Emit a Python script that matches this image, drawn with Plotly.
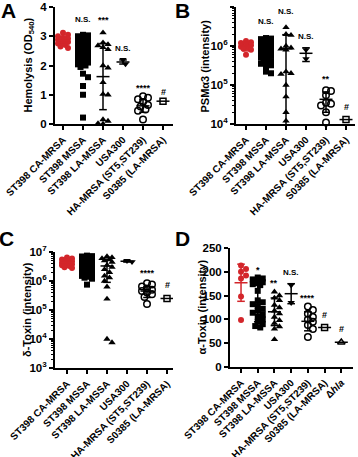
import numpy as np
import plotly.graph_objects as go

# ---------------- categories / tick labels ----------------
groups = ["ST398 CA-MRSA", "ST398 MSSA", "ST398 LA-MSSA", "USA300",
          "HA-MRSA (ST5,ST239)", "S0385 (LA-MRSA)"]
groups_d = groups + ["Δ<i>hla</i>"]
log_ticks_b = [1e4, 1e5, 1e6, 1e7]
log_text_b = ["10<sup>4</sup>", "10<sup>5</sup>", "10<sup>6</sup>", "10<sup>7</sup>"]
log_ticks_c = [1e3, 1e4, 1e5, 1e6, 1e7]
log_text_c = ["10<sup>3</sup>", "10<sup>4</sup>", "10<sup>5</sup>", "10<sup>6</sup>", "10<sup>7</sup>"]

# ---------------- Panel A: Hemolysis ----------------
a_ca = [3.12, 3.05, 3.0, 2.95, 2.92, 2.88, 2.85, 2.82, 2.8, 2.78, 2.75, 2.7, 2.65, 2.6]
a_mssa = [3.05, 3.03, 3.0, 2.98, 2.96, 2.94, 2.92, 2.9, 2.88, 2.85, 2.83, 2.8, 2.78, 2.76,
          2.74, 2.72, 2.7, 2.68, 2.66, 2.64, 2.62, 2.6, 2.58, 2.56, 2.54, 2.52, 2.5, 2.48,
          2.46, 2.44, 2.42, 2.4, 2.38, 2.36, 2.34, 2.32, 2.3, 2.28, 2.26, 2.24, 2.22, 2.2,
          2.18, 2.15, 2.12, 2.1, 2.07, 2.04, 2.0, 1.95, 1.72, 1.6, 1.3, 1.0, 0.22]
a_la = [3.12, 2.78, 2.72, 2.68, 2.62, 2.55, 2.0, 1.92, 1.42, 1.02, 1.0, 0.15, 0.1, 0.02, 0.0]
a_usa = [2.2, 2.05]
a_ha = [0.95, 0.9, 0.85, 0.75, 0.65, 0.6, 0.5, 0.45, 0.15]
a_s = [0.78]
a_mean = [2.85, 2.5, 1.62, 2.12, 0.62, 0.78]
a_sd = [0.13, 0.45, 1.13, 0.07, 0.22, 0.0]
a_sig = ["", "N.S.", "***", "N.S.", "****", "#"]
a_sig_y = [None, 3.56, 3.56, 2.59, 1.24, 1.08]

# ---------------- Panel B: PSMα3 ----------------
b_ca = [1.35e6, 1.25e6, 1.2e6, 1.15e6, 1.1e6, 1.05e6, 1.0e6, 9.5e5, 9e5, 8.5e5, 8e5, 6e5]
b_mssa = [1.6e6, 1.55e6, 1.5e6, 1.45e6, 1.4e6, 1.35e6, 1.3e6, 1.25e6, 1.2e6, 1.18e6, 1.15e6,
          1.1e6, 1.08e6, 1.05e6, 1.02e6, 1.0e6, 9.7e5, 9.4e5, 9.1e5, 8.8e5, 8.5e5, 8.2e5, 8e5,
          7.7e5, 7.4e5, 7.1e5, 6.8e5, 6.5e5, 6.2e5, 5.9e5, 5.6e5, 5.3e5, 5e5, 4.7e5, 4.4e5,
          4.1e5, 3.8e5, 3.5e5, 3.2e5, 3e5, 2.2e5, 2e5]
b_la = [3e6, 2e6, 1.9e6, 1.0e6, 9e5, 8.5e5, 8e5, 2.2e5, 2e5, 1.9e5, 1.0e5, 5e4, 2e4, 1.2e4]
b_usa = [8e5, 4.7e5]
b_ha = [7.3e4, 7e4, 5.5e4, 3.5e4, 3.3e4, 3e4, 2e4, 1.1e4]
b_s = [1.3e4]
b_mean = [1.0e6, 9e5, 8.5e5, 6.5e5, 4.3e4, 1.3e4]
b_sd = [2.5e5, 4e5, 1.1e6, 2.5e5, 2.3e4, 0.0]
b_sig = ["", "N.S.", "N.S.", "N.S.", "**", "#"]
b_sig_y = [None, 4.2e6, 7.6e6, 1.8e6, 1.4e5, 2.75e4]

# ---------------- Panel C: δ-Toxin ----------------
c_ca = [6.5e6, 6e6, 5.5e6, 5.2e6, 5e6, 4.8e6, 4.5e6, 4.3e6, 4e6, 3.8e6, 3.5e6, 3.3e6,
        3e6, 2.8e6, 4.2e6, 3.7e6]
c_mssa = [7.5e6, 7.2e6, 7e6, 6.8e6, 6.7e6, 6.4e6, 6.2e6, 6.1e6, 5.8e6, 5.6e6, 5.5e6, 5.3e6,
          5.2e6, 5e6, 4.8e6, 4.7e6, 4.6e6, 4.4e6, 4.3e6, 4.2e6, 4e6, 3.9e6, 3.8e6, 3.6e6,
          3.5e6, 3.4e6, 3.2e6, 3e6, 2.8e6, 2.6e6, 2.4e6, 2.2e6, 2e6, 1.9e6, 1.8e6, 1.7e6,
          1.6e6, 1.5e6, 1.4e6, 1.3e6, 1.2e6, 7.5e5]
c_la = [7e6, 6.5e6, 6e6, 5.5e6, 5e6, 4.5e6, 3.5e6, 3e6, 2.5e6, 2e6, 1.5e6, 1.3e6, 1e6,
        6.3e5, 2.4e5, 1e4, 7.5e3]
c_usa = [5e6, 4.6e6]
c_ha = [8.3e5, 7.5e5, 6.5e5, 5.5e5, 5e5, 4.5e5, 4e5, 3.5e5, 2.8e5, 1.6e5]
c_s = [2.5e5]
c_mean = [4.3e6, 3.5e6, 3.3e6, 4.8e6, 4.5e5, 2.5e5]
c_sd = [1.1e6, 1.8e6, 2.4e6, 3e5, 1.8e5, 0.0]
c_sig = ["", "N.S.", "N.S.", "N.S.", "****", "#"]
c_sig_y = [None, 2.0e7, 1.65e7, 1.65e7, 1.9e6, 7.3e5]

# ---------------- Panel D: α-Toxin ----------------
d_ca = [213, 206, 200, 192, 186, 148, 99]
d_mssa = [188, 186, 184, 182, 180, 178, 176, 174, 172, 160, 140, 136, 132, 128, 122, 118,
          114, 110, 105, 100, 95, 90, 86, 83]
d_la = [158, 150, 145, 140, 130, 125, 118, 112, 105, 98, 92, 85, 80, 58]
d_usa = [172, 135]
d_ha = [127, 120, 112, 105, 100, 95, 88, 80, 63]
d_s = [83]
d_hla = [52]
d_mean = [177, 135, 116, 154, 96, 83, 52]
d_sd = [39, 40, 29, 21, 20, 0, 0]
d_sig = ["", "*", "**", "N.S.", "****", "#", "#"]
d_sig_y = [None, 204, 176, 198, 144, 109, 79]

# ---------------- styles ----------------
RED = "#d3262b"
BLK = "black"
colors = [RED, BLK, BLK, BLK, BLK, BLK, BLK]
symbols = ["circle", "square", "triangle-up", "triangle-down", "circle-open",
           "square-open", "triangle-up-open"]
sizes = [6, 6, 6.5, 6.5, 6.5, 6, 6.5]
FONT = "Liberation Sans"

fig = go.Figure()


def swarm(vals, ypx, log, catpx, size=5.0, maxhalf=6.0):
    v = np.asarray(vals, float)
    y = (np.log10(v) if log else v) * ypx
    order = np.argsort(-y)
    step = size * 0.5
    cands = [0.0]
    k = 1
    while k * step <= maxhalf:
        cands += [k * step, -k * step]
        k += 1
    placed = []
    offs = np.zeros(len(v))
    for i in order:
        best, bestc, bestd = None, 0.0, -1.0
        for c in cands:
            d = min([np.hypot(c - px, y[i] - py) for px, py in placed], default=1e9)
            if d >= size * 0.95:
                best = c
                break
            if d > bestd:
                bestd, bestc = d, c
        if best is None:
            best = bestc
        offs[i] = best
        placed.append((best, y[i]))
    return offs / catpx


def panel(n, data, means, sds, sig, sig_y, ypx, log, catpx):
    xa = "x" if n == 1 else f"x{n}"
    ya = "y" if n == 1 else f"y{n}"
    for i, vals in enumerate(data):
        offs = swarm(vals, ypx, log, catpx)
        fig.add_trace(go.Scatter(
            x=i + offs, y=vals, mode="markers", xaxis=xa, yaxis=ya,
            cliponaxis=False,
            marker=dict(symbol=symbols[i], size=sizes[i], color=colors[i],
                        line=dict(width=1.5 if "open" in symbols[i] else 0, color=colors[i]))))
    for i, (m, s) in enumerate(zip(means, sds)):
        mh = 6.5 / catpx
        ch = 3.8 / catpx
        xs, ys = [i - mh, i + mh, None], [m, m, None]
        if s > 0:
            lo = m - s
            if log and lo <= 0:
                lo = 1.0
            hi = m + s
            xs += [i, i, None, i - ch, i + ch, None, i - ch, i + ch]
            ys += [lo, hi, None, lo, lo, None, hi, hi]
        fig.add_trace(go.Scatter(x=xs, y=ys, mode="lines", xaxis=xa, yaxis=ya,
                                 line=dict(color=colors[i], width=1.5)))
    for i, (t, yy) in enumerate(zip(sig, sig_y)):
        if t:
            fig.add_annotation(x=i, y=np.log10(yy) if log else yy, xref=xa, yref=ya,
                               text=t, showarrow=False,
                               font=dict(size=8 if t == "N.S." else 9, family=FONT,
                                         color="black", weight="bold"))


panel(1, [a_ca, a_mssa, a_la, a_usa, a_ha, a_s], a_mean, a_sd, a_sig, a_sig_y, 29.25, False, 20)
panel(2, [b_ca, b_mssa, b_la, b_usa, b_ha, b_s], b_mean, b_sd, b_sig, b_sig_y, 39.3, True, 20)
panel(3, [c_ca, c_mssa, c_la, c_usa, c_ha, c_s], c_mean, c_sd, c_sig, c_sig_y, 29.0, True, 20)
panel(4, [d_ca, d_mssa, d_la, d_usa, d_ha, d_s, d_hla], d_mean, d_sd, d_sig, d_sig_y, 0.476, False, 16.7)

W, H = 358, 457


def dx(a, b):
    return [a / W, b / W]


def dy(top, bottom):
    return [1 - bottom / H, 1 - top / H]


ax = dict(showline=True, linecolor="black", linewidth=2, ticks="outside", ticklen=4,
          tickwidth=1.5, tickcolor="black", showgrid=False, zeroline=False, mirror=False,
          automargin=False)
xt = dict(tickfont=dict(size=10, family=FONT, color="black", weight="bold"), tickangle=-45)
yt = dict(tickfont=dict(size=11.5, family=FONT, color="black", weight="bold"))


def minor_vals(lo, hi):
    return [k * 10.0 ** d for d in range(lo, hi) for k in range(2, 10)]


fig.update_layout(
    width=W, height=H, margin=dict(l=0, r=0, t=0, b=0, autoexpand=False),
    paper_bgcolor="white", plot_bgcolor="white", showlegend=False,
    font=dict(family=FONT, color="black", weight="bold"),
    xaxis=dict(**ax, **xt, domain=dx(55, 173), range=[-0.4, 5.5],
               tickmode="array", tickvals=list(range(6)), ticktext=groups, anchor="y"),
    yaxis=dict(**ax, **yt, domain=dy(7, 124), range=[0, 4], tickvals=[0, 1, 2, 3, 4], anchor="x"),
    xaxis2=dict(**ax, **xt, domain=dx(236, 355), range=[-0.5, 5.45],
                tickmode="array", tickvals=list(range(6)), ticktext=groups, anchor="y2"),
    yaxis2=dict(**ax, **yt, domain=dy(7, 124), type="log", range=[4, 7],
                tickmode="array", tickvals=log_ticks_b, ticktext=log_text_b, anchor="x2",
                minor=dict(ticks="outside", ticklen=2.5, tickwidth=1, tickcolor="black",
                           tickmode="array", tickvals=minor_vals(4, 7))),
    xaxis3=dict(**ax, **xt, domain=dx(55, 173), range=[-0.6, 5.3],
                tickmode="array", tickvals=list(range(6)), ticktext=groups, anchor="y3"),
    yaxis3=dict(**ax, **yt, domain=dy(252, 368), type="log", range=[3, 7],
                tickmode="array", tickvals=log_ticks_c, ticktext=log_text_c, anchor="x3",
                minor=dict(ticks="outside", ticklen=2.5, tickwidth=1, tickcolor="black",
                           tickmode="array", tickvals=minor_vals(3, 7))),
    xaxis4=dict(**ax, **xt, domain=dx(230, 353), range=[-0.66, 6.7],
                tickmode="array", tickvals=list(range(7)), ticktext=groups_d, anchor="y4"),
    yaxis4=dict(**ax, **yt, domain=dy(248, 367), range=[0, 250],
                tickvals=[0, 50, 100, 150, 200, 250], anchor="x4"),
)

# panel letters and y titles
for letter, px, py in [("A", 8, 10), ("B", 182, 10), ("C", 6, 238), ("D", 182, 238)]:
    fig.add_annotation(x=px / W, y=1 - py / H, xref="paper", yref="paper", text=letter,
                       xanchor="center", yanchor="middle",
                       showarrow=False, font=dict(size=21, family=FONT, color="black", weight="bold"))
for txt, px, top, bot in [("Hemolysis (OD<sub>540</sub>)", 28, 7, 124),
                          ("PSMα3 (intensity)", 204, 7, 124),
                          ("δ-Toxin (intensity)", 27, 252, 368),
                          ("α-Toxin (intensity)", 201, 248, 367)]:
    fig.add_annotation(x=px / W, y=1 - (top + bot) / 2 / H, xref="paper", yref="paper",
                       text=txt, textangle=-90, showarrow=False,
                       xanchor="center", yanchor="middle",
                       font=dict(size=11, family=FONT, color="black", weight="bold"))

fig.write_html("out.html", config={"displayModeBar": False},
               post_script="document.body.style.margin='0px';")
